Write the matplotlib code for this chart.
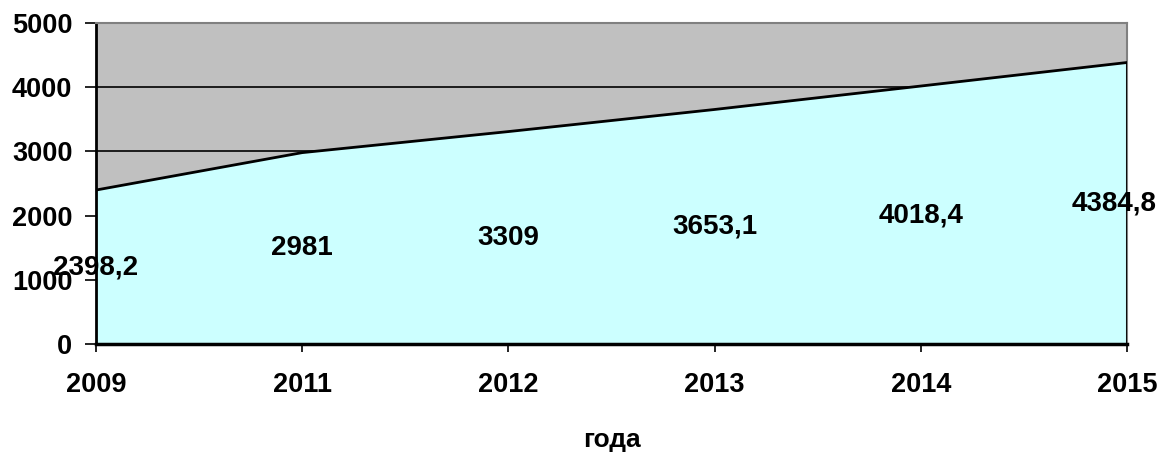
import matplotlib
matplotlib.use('Agg')
from matplotlib import pyplot as plt

# data
years = ['2009', '2011', '2012', '2013', '2014', '2015']
values = [2398.2, 2981, 3309, 3653.1, 4018.4, 4384.8]
value_labels = ['2398,2', '2981', '3309', '3653,1', '4018,4', '4384,8']

plt.rcParams['font.family'] = ['Liberation Sans', 'DejaVu Sans']
plt.rcParams['font.weight'] = 'bold'

fig = plt.figure(figsize=(11.69, 4.54), dpi=100)
fig.patch.set_facecolor('white')
ax = fig.add_axes([0.0821, 0.2423, 0.882, 0.707])
ax.set_facecolor('#C0C0C0')

x = list(range(len(years)))
ax.fill_between(x, 0, values, facecolor='#CCFFFF', edgecolor='none', zorder=2)
ax.plot(x, values, color='black', linewidth=2, zorder=3)
ax.plot([x[-1], x[-1]], [0, values[-1]], color='black', linewidth=2, zorder=3)

# gridlines behind the area
for g in [1000, 2000, 3000, 4000]:
    ax.axhline(g, color='black', linewidth=1.2, zorder=1)

ax.set_xlim(0, len(years) - 1)
ax.set_ylim(0, 5000)
ax.set_yticks([0, 1000, 2000, 3000, 4000, 5000])
ax.set_xticks(x)
ax.set_xticklabels(years)
ax.tick_params(axis='y', length=8, width=1.2, labelsize=19.5, pad=9)
ax.tick_params(axis='x', length=6, width=1.2, labelsize=19.5, pad=14)

ax.spines['left'].set_linewidth(2)
ax.spines['bottom'].set_linewidth(2.5)
ax.spines['top'].set_color('#808080')
ax.spines['right'].set_color('#808080')
ax.spines['top'].set_linewidth(1.5)
ax.spines['right'].set_linewidth(1.5)

# value labels at half height; the last one is nudged left to stay in the picture
for i, (xi, v, lab) in enumerate(zip(x, values, value_labels)):
    dx = -9 if i == len(x) - 1 else 0
    ax.annotate(lab, (xi, v / 2), xytext=(dx, 0), textcoords='offset points',
                ha='center', va='center', fontsize=20, fontweight='bold',
                zorder=5, annotation_clip=False)

ax.set_xlabel('года', fontsize=19, fontweight='bold', labelpad=22)

fig.savefig('out.png', dpi=100)
